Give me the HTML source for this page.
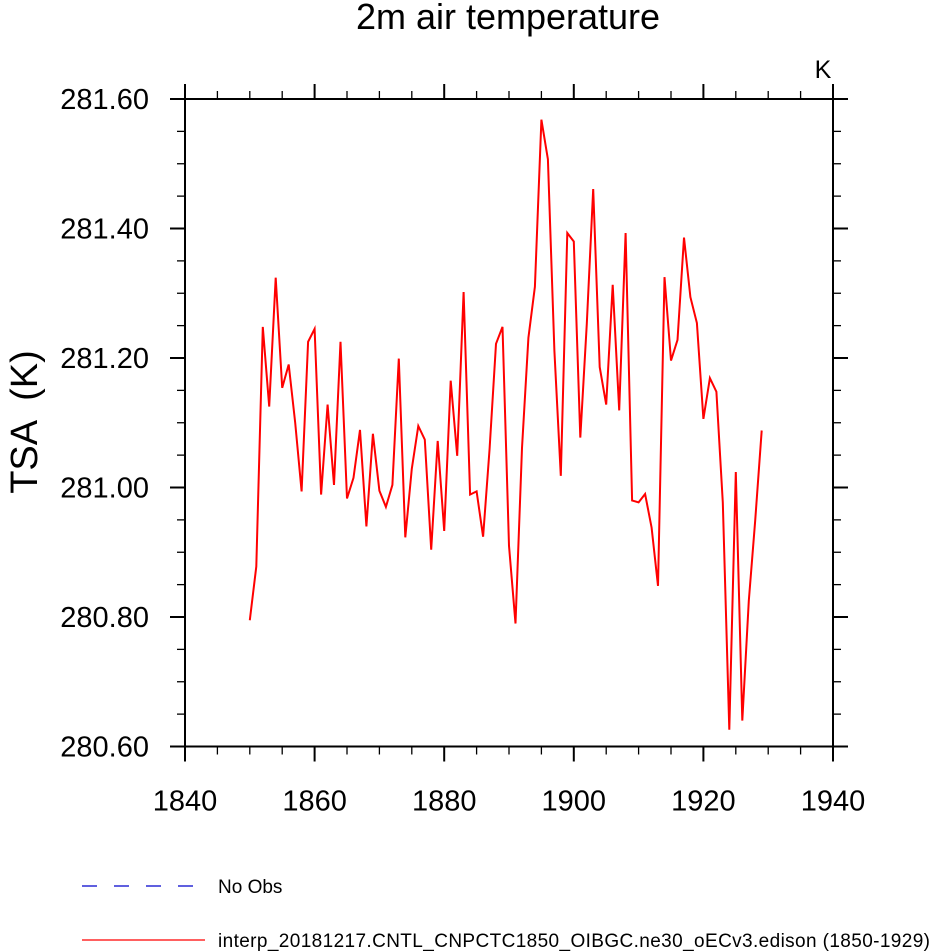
<!DOCTYPE html>
<html><head><meta charset="utf-8"><style>
body{margin:0;background:#fff;}
svg{display:block;font-family:"Liberation Sans",Arial,sans-serif;}
</style></head><body>
<svg id="chart" width="932" height="951" viewBox="0 0 932 951">
<text x="508" y="29" font-size="36" text-anchor="middle">2m air temperature</text>
<text x="823" y="78" font-size="25" text-anchor="middle">K</text>
<text transform="translate(37,422) rotate(-90)" font-size="38" text-anchor="middle" style="white-space:pre">TSA  (K)</text>
<g id="axes"></g>
<polyline id="series" fill="none" stroke="#ff0000" stroke-width="2" stroke-linejoin="miter"/>
<g>
<line x1="82" y1="886" x2="195" y2="886" stroke="#0000cc" stroke-width="1.3" stroke-dasharray="15,17"/>
<text x="218" y="893" font-size="19">No Obs</text>
<line x1="82" y1="940" x2="205" y2="940" stroke="#ff0000" stroke-width="1.3"/>
<text x="218" y="947" font-size="19" textLength="712">interp_20181217.CNTL_CNPCTC1850_OIBGC.ne30_oECv3.edison (1850-1929)</text>
</g>
</svg>
<script>
const startYear = 1850;
const values = [280.795,280.878,281.248,281.125,281.324,281.154,281.19,281.10,280.994,281.225,
281.245,280.989,281.128,281.004,281.225,280.983,281.015,281.089,280.94,281.083,
280.995,280.97,281.004,281.199,280.923,281.029,281.095,281.074,280.904,281.072,
280.933,281.165,281.049,281.302,280.989,280.994,280.924,281.06,281.222,281.248,
280.910,280.79,281.061,281.231,281.31,281.568,281.507,281.211,281.018,281.393,
281.38,281.077,281.253,281.461,281.186,281.128,281.313,281.119,281.393,280.98,
280.977,280.99,280.938,280.848,281.325,281.196,281.228,281.386,281.294,281.254,
281.106,281.169,281.148,280.977,280.626,281.024,280.64,280.825,280.949,281.088];
const xTicks = [1840,1860,1880,1900,1920,1940];
const yTicks = [280.6,280.8,281.0,281.2,281.4,281.6];
const L=185,R=833,T=99,B=746.5;
const xMin=1840,xMax=1940,yMin=280.6,yMax=281.6;
function X(v){return L+(v-xMin)/(xMax-xMin)*(R-L);}
function Y(v){return B-(v-yMin)/(yMax-yMin)*(B-T);}
const NS="http://www.w3.org/2000/svg";
const ax=document.getElementById('axes');
function ln(x1,y1,x2,y2,w,name){const l=document.createElementNS(NS,'line');
l.setAttribute('x1',x1);l.setAttribute('y1',y1);l.setAttribute('x2',x2);l.setAttribute('y2',y2);
l.setAttribute('stroke','#000');l.setAttribute('stroke-width',w);


ax.appendChild(l);return l;}
function tx(x,y,s,anchor,name){const t=document.createElementNS(NS,'text');
t.setAttribute('x',x);t.setAttribute('y',y);t.setAttribute('font-size','29');t.setAttribute('text-anchor',anchor);t.textContent=s;


ax.appendChild(t);}
const r=document.createElementNS(NS,'rect');
r.setAttribute('x',L);r.setAttribute('y',T);r.setAttribute('width',R-L);r.setAttribute('height',B-T);
r.setAttribute('fill','none');r.setAttribute('stroke','#000');r.setAttribute('stroke-width','2');


ax.appendChild(r);
for(let y=xMin;y<=xMax;y+=5){const maj=(y%20===0);const len=maj?15:8;const x=X(y);
ln(x,B,x,B+len,maj?2:1.3,'x-tick');ln(x,T,x,T-len,maj?2:1.3,'x-tick-top');}
for(let i=0;i<=20;i++){const v=yMin+i*0.05;const maj=(i%4===0);const len=maj?15:8;const y=Y(v);
ln(L,y,L-len,y,maj?2:1.3,'y-tick');ln(R,y,R+len,y,maj?2:1.3,'y-tick-right');}
xTicks.forEach(v=>tx(X(v),B+64,String(v),'middle','x-tick-label'));
yTicks.forEach(v=>tx(L-36,Y(v)+10,v.toFixed(2),'end','y-tick-label'));
document.getElementById('series').setAttribute('points',values.map((v,i)=>X(startYear+i).toFixed(1)+','+Y(v).toFixed(1)).join(' '));
</script>
</body></html>
